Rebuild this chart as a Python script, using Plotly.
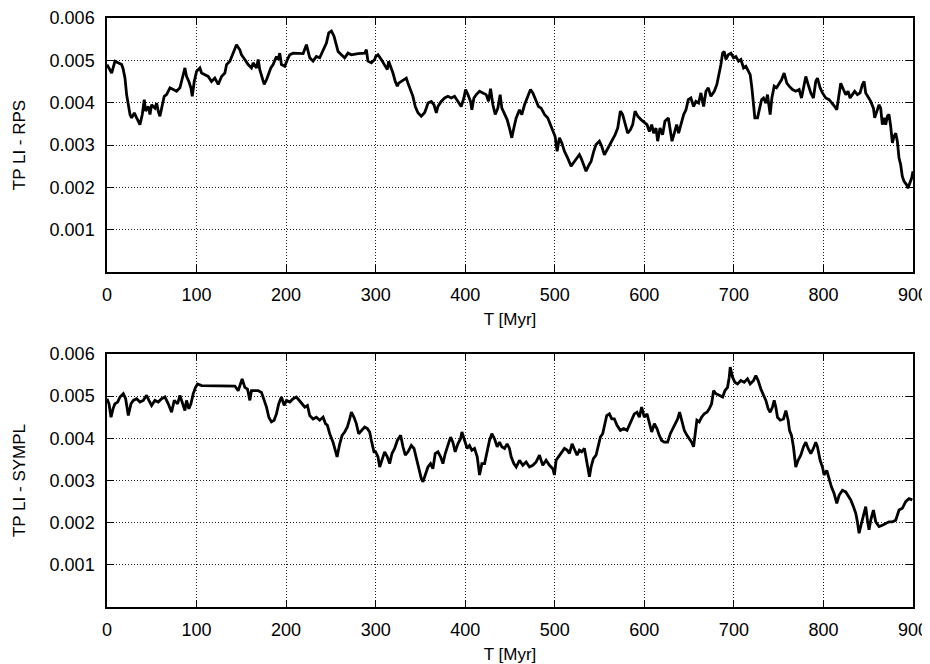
import plotly.graph_objects as go

# ---- Data (T in Myr, TP LI values) ----
t_rps = [0, 5.2, 8.9, 12.6, 16.4, 18.2, 20.1, 21.9, 23.8, 25.7, 27.5, 30.5, 33.1, 34.9, 36.8, 39.4, 41.6, 43.1,
         46.1, 48.0, 49.8, 53.5, 55.4, 57.2, 59.1, 61.0, 63.9, 66.5, 70.3, 74.0, 77.7, 81.4, 83.3, 85.1, 87.0,
         88.8, 91.4, 93.7, 95.2, 97.4, 100.0, 103.7, 105.6, 109.3, 113.0, 116.7, 120.4, 124.2, 127.9, 131.6,
         133.5, 137.2, 140.9, 144.6, 148.3, 150.2, 153.9, 157.6, 161.3, 163.2, 166.9, 168.8, 170.6, 172.5,
         175.5, 178.1, 179.9, 182.9, 185.5, 187.4, 189.2, 191.1, 192.9, 194.8, 198.5, 201.5, 204.1, 207.8,
         213.4, 219.0, 222.7, 224.5, 226.4, 230.1, 233.8, 237.5, 241.3, 245.0, 247.6, 250.6, 253.5, 256.1,
         258.0, 261.7, 265.4, 269.1, 272.9, 280.3, 287.7, 289.6, 291.4, 295.2, 298.9,
         300.0, 302.6, 306.3, 310.0, 313.0, 314.5, 317.5, 319.3, 321.9, 324.2, 325.7, 328.6, 331.6, 334.2,
         336.1, 339.0, 341.6, 344.2, 347.2, 350.9, 354.6, 356.5, 358.4, 362.1, 365.1, 367.7, 369.5, 373.2,
         377.0, 380.7, 384.4, 388.1, 391.8, 395.5, 398.5, 400.4, 403.0, 405.9, 407.4, 409.7, 412.3, 416.0,
         419.7, 423.4, 426.0, 428.3, 430.9, 433.5, 436.4, 439.0, 440.9, 443.9, 446.8, 449.4, 452.0, 454.3,
         456.9, 460.6, 463.2, 466.2, 469.9, 472.9, 475.5, 479.2, 481.8, 484.8, 488.5, 492.2, 495.2, 497.8,
         500.4, 502.6, 505.2, 507.8, 510.8, 514.5, 518.2, 521.9, 524.9, 527.5, 529.4, 532.3, 534.9, 537.5,
         540.5, 543.5, 546.1, 549.8, 552.4, 555.4, 558.4, 561.0, 564.7, 567.3, 570.3, 573.2, 575.8, 578.4,
         581.4, 584.4, 587.0, 589.6, 592.6, 596.3,
         600.0, 603.0, 605.6, 608.2, 610.4, 613.0, 614.9, 617.5, 620.4, 623.0, 626.8, 629.0, 630.9, 633.5,
         636.1, 638.3, 640.9, 643.9, 646.5, 649.1, 652.0, 655.0, 657.6, 660.6, 663.2, 666.2, 668.8, 671.4,
         674.3, 678.1, 681.0, 683.6, 685.5, 687.4, 689.2, 691.1, 693.7, 696.7, 699.6, 702.2, 705.2, 707.8,
         710.8, 713.4, 716.0, 718.2, 720.1, 721.9, 723.4, 726.4, 728.3, 730.9, 733.1, 735.7, 737.5, 739.4,
         740.5, 742.4, 745.0, 747.6, 750.6, 753.2, 756.1, 759.1, 761.7, 765.4, 769.1, 772.9, 775.5, 777.7,
         780.3, 782.9, 785.9, 788.8, 791.4, 793.3, 796.3, 798.9, 802.6, 806.3, 810.0, 812.6, 814.9, 817.5,
         819.3, 822.3, 824.9, 827.5, 829.7, 832.3, 834.9, 837.9, 840.9, 843.5, 845.4, 847.2, 849.8, 852.8,
         855.8, 857.2, 859.1, 862.1, 863.9, 865.8, 867.7, 869.5, 871.4, 873.2, 875.1, 877.0, 878.8, 880.7,
         882.5, 884.4, 886.2, 888.1, 890.0, 892.9, 894.4, 896.7, 898.5, 900.0]

li_rps = [0.00490, 0.00470, 0.00498, 0.00494, 0.00490, 0.00478, 0.00458, 0.00419, 0.00395, 0.00372, 0.00364,
          0.00376, 0.00364, 0.00356, 0.00348, 0.00372, 0.00407, 0.00380, 0.00391, 0.00372, 0.00395, 0.00387,
          0.00399, 0.00380, 0.00368, 0.00387, 0.00415, 0.00419, 0.00435, 0.00431, 0.00427, 0.00435, 0.00454,
          0.00466, 0.00482, 0.00462, 0.00450, 0.00435, 0.00415, 0.00450, 0.00474, 0.00482, 0.00470, 0.00466,
          0.00462, 0.00450, 0.00458, 0.00443, 0.00462, 0.00470, 0.00490, 0.00498, 0.00517, 0.00537, 0.00525,
          0.00513, 0.00502, 0.00490, 0.00482, 0.00494, 0.00482, 0.00502, 0.00478, 0.00462, 0.00443, 0.00454,
          0.00466, 0.00482, 0.00490, 0.00502, 0.00509, 0.00502, 0.00517, 0.00490, 0.00486, 0.00502, 0.00513,
          0.00517, 0.00516, 0.00516, 0.00537, 0.00521, 0.00506, 0.00498, 0.00509, 0.00506, 0.00525, 0.00541,
          0.00565, 0.00569, 0.00557, 0.00537, 0.00521, 0.00513, 0.00506, 0.00517, 0.00513, 0.00516, 0.00517,
          0.00525, 0.00498, 0.00494, 0.00502,
          0.00509, 0.00513, 0.00502, 0.00490, 0.00478, 0.00498, 0.00482, 0.00470, 0.00450, 0.00439, 0.00446,
          0.00450, 0.00454, 0.00458, 0.00446, 0.00431, 0.00415, 0.00391, 0.00376, 0.00368, 0.00376, 0.00387,
          0.00399, 0.00403, 0.00395, 0.00376, 0.00391, 0.00403, 0.00411, 0.00415, 0.00411, 0.00415, 0.00403,
          0.00391, 0.00411, 0.00431, 0.00419, 0.00403, 0.00383, 0.00411, 0.00419, 0.00427, 0.00423, 0.00419,
          0.00403, 0.00433, 0.00395, 0.00372, 0.00387, 0.00419, 0.00387, 0.00372, 0.00360, 0.00340, 0.00317,
          0.00340, 0.00364, 0.00383, 0.00372, 0.00395, 0.00415, 0.00431, 0.00423, 0.00403, 0.00391, 0.00387,
          0.00372, 0.00364, 0.00348, 0.00332, 0.00320, 0.00285, 0.00317, 0.00305, 0.00285, 0.00269, 0.00250,
          0.00261, 0.00269, 0.00277, 0.00269, 0.00250, 0.00238, 0.00250, 0.00261, 0.00285, 0.00301, 0.00309,
          0.00297, 0.00277, 0.00289, 0.00301, 0.00313, 0.00324, 0.00340, 0.00380, 0.00372, 0.00348, 0.00328,
          0.00336, 0.00348, 0.00380, 0.00368, 0.00360,
          0.00352, 0.00348, 0.00332, 0.00348, 0.00328, 0.00340, 0.00309, 0.00340, 0.00324, 0.00356, 0.00364,
          0.00336, 0.00309, 0.00328, 0.00348, 0.00328, 0.00348, 0.00372, 0.00383, 0.00407, 0.00411, 0.00391,
          0.00403, 0.00399, 0.00423, 0.00391, 0.00427, 0.00435, 0.00415, 0.00427, 0.00443, 0.00466, 0.00490,
          0.00517, 0.00521, 0.00502, 0.00513, 0.00517, 0.00506, 0.00509, 0.00498, 0.00502, 0.00482, 0.00486,
          0.00474, 0.00466, 0.00435, 0.00395, 0.00364, 0.00364, 0.00380, 0.00407, 0.00411, 0.00399, 0.00419,
          0.00387, 0.00372, 0.00411, 0.00439, 0.00435, 0.00446, 0.00454, 0.00470, 0.00446, 0.00439, 0.00431,
          0.00427, 0.00431, 0.00411, 0.00439, 0.00462, 0.00443, 0.00423, 0.00411, 0.00450, 0.00458, 0.00435,
          0.00423, 0.00411, 0.00407, 0.00399, 0.00391, 0.00383, 0.00415, 0.00446, 0.00431, 0.00419, 0.00427,
          0.00411, 0.00419, 0.00427, 0.00419, 0.00423, 0.00443, 0.00450, 0.00423, 0.00415, 0.00403, 0.00387,
          0.00364, 0.00376, 0.00395, 0.00387, 0.00348, 0.00364, 0.00348, 0.00368, 0.00372, 0.00344, 0.00305,
          0.00320, 0.00328, 0.00309, 0.00269, 0.00254, 0.00226, 0.00214, 0.00206, 0.00198, 0.00210, 0.00222,
          0.00238]

t_sympl = [0, 2.2, 4.5, 6.7, 8.9, 11.9, 14.5, 18.2, 20.8, 23.8, 26.8, 29.4, 33.1, 36.8, 40.5, 44.2, 46.8,
           49.8, 53.5, 57.2, 61.0, 64.7, 68.4, 72.1, 75.1, 78.8, 81.4, 84.0, 87.0, 88.8, 91.4, 93.7, 96.3,
           98.9, 101.1, 105.6, 113.0, 120.4, 127.9, 135.3, 142.8, 146.5, 148.3, 150.9, 153.9, 156.9, 159.5,
           161.3, 165.1, 168.8, 172.5, 175.5, 178.1, 180.7, 183.6, 186.6, 189.2, 191.8, 194.8, 197.8, 200.4,
           204.1, 207.8, 211.5, 215.2, 217.8, 220.8, 223.8, 226.4, 230.1, 233.8, 237.5, 241.3, 243.9, 246.1,
           248.7, 252.4, 255.0, 256.9, 259.9, 262.5, 265.4, 268.4, 271.0, 272.9, 275.8, 278.4, 281.0, 284.0,
           287.7, 290.7, 293.3, 295.2, 298.1,
           300.0, 302.6, 304.5, 307.1, 310.0, 313.0, 315.6, 318.2, 321.2, 324.2, 327.9, 330.5, 333.1, 336.1,
           339.8, 342.8, 345.4, 348.0, 350.9, 352.8, 355.4, 358.4, 361.3, 363.9, 366.5, 369.5, 372.5, 375.1,
           377.7, 380.7, 383.6, 386.2, 388.8, 391.8, 394.8, 396.3, 399.3, 402.2, 404.8, 407.4, 410.4, 413.4,
           416.0, 418.6, 421.6, 424.5, 427.1, 429.7, 432.7, 435.7, 438.3, 440.9, 443.9, 446.8, 449.4, 451.3,
           454.3, 456.9, 460.6, 464.3, 468.0, 471.7, 475.5, 479.2, 482.9, 486.6, 490.3, 494.1, 497.8, 499.6,
           501.5, 504.1, 507.1, 510.8, 513.8, 516.4, 519.3, 521.9, 524.9, 527.5, 530.1, 533.1, 535.7, 538.7,
           540.5, 543.1, 546.1, 548.7, 550.9, 553.5, 555.4, 558.0, 561.0, 563.6, 566.5, 569.5, 573.2, 576.9,
           580.7, 583.3, 585.9, 588.8, 591.8, 594.4, 597.0,
           600.0, 603.0, 605.6, 608.2, 611.2, 614.1, 616.7, 619.3, 622.3, 626.0, 629.0, 631.6, 634.2, 637.2,
           639.4, 641.6, 644.6, 647.6, 650.2, 652.8, 655.0, 656.5, 658.7, 661.3, 663.9, 666.9, 669.9, 672.5,
           675.1, 677.3, 679.9, 683.6, 687.4, 690.0, 692.9, 694.8, 695.9, 698.5, 701.1, 704.1, 707.8, 711.5,
           715.2, 718.2, 721.9, 724.5, 727.1, 730.1, 733.1, 735.7, 738.3, 740.5, 743.1, 745.0, 746.8, 748.7,
           751.7, 755.4, 758.0, 760.6, 762.1, 764.3, 766.5, 769.1, 771.7, 774.7, 777.7, 780.3, 782.9, 785.9,
           788.8, 791.4, 793.3, 796.3, 798.9, 800.7, 803.7, 806.3, 808.9, 811.9, 814.9, 817.5, 821.2, 824.9,
           827.5, 830.5, 833.5, 836.1, 837.9, 839.8, 842.4, 845.4, 847.2, 849.1, 850.9, 852.8, 855.8, 858.4,
           862.1, 865.8, 869.5, 873.2, 877.0, 880.7, 884.4, 888.1, 891.8, 895.5, 899.3]

li_sympl = [0.00494, 0.00482, 0.00450, 0.00470, 0.00482, 0.00486, 0.00498, 0.00506, 0.00494, 0.00454, 0.00482,
            0.00490, 0.00494, 0.00486, 0.00490, 0.00502, 0.00490, 0.00478, 0.00490, 0.00486, 0.00494, 0.00498,
            0.00482, 0.00462, 0.00490, 0.00482, 0.00502, 0.00486, 0.00466, 0.00490, 0.00470, 0.00482, 0.00506,
            0.00521, 0.00529, 0.00525, 0.00525, 0.00525, 0.00524, 0.00524, 0.00524, 0.00513, 0.00525, 0.00541,
            0.00521, 0.00517, 0.00490, 0.00513, 0.00513, 0.00513, 0.00509, 0.00490, 0.00474, 0.00450, 0.00439,
            0.00443, 0.00458, 0.00482, 0.00498, 0.00478, 0.00490, 0.00486, 0.00494, 0.00498, 0.00490, 0.00482,
            0.00474, 0.00478, 0.00454, 0.00446, 0.00450, 0.00443, 0.00450, 0.00435, 0.00431, 0.00411, 0.00391,
            0.00372, 0.00356, 0.00387, 0.00407, 0.00415, 0.00427, 0.00446, 0.00462, 0.00450, 0.00435, 0.00411,
            0.00419, 0.00427, 0.00423, 0.00415, 0.00395, 0.00368,
            0.00368, 0.00356, 0.00332, 0.00352, 0.00368, 0.00356, 0.00340, 0.00364, 0.00376, 0.00395, 0.00407,
            0.00380, 0.00360, 0.00368, 0.00383, 0.00376, 0.00352, 0.00328, 0.00305, 0.00297, 0.00313, 0.00332,
            0.00340, 0.00328, 0.00364, 0.00368, 0.00356, 0.00340, 0.00364, 0.00387, 0.00403, 0.00391, 0.00368,
            0.00387, 0.00399, 0.00415, 0.00395, 0.00376, 0.00383, 0.00372, 0.00376, 0.00356, 0.00313, 0.00340,
            0.00340, 0.00372, 0.00395, 0.00411, 0.00399, 0.00380, 0.00391, 0.00380, 0.00376, 0.00387, 0.00376,
            0.00356, 0.00340, 0.00332, 0.00348, 0.00336, 0.00344, 0.00332, 0.00336, 0.00344, 0.00360, 0.00336,
            0.00348, 0.00336, 0.00328, 0.00313, 0.00348, 0.00356, 0.00364, 0.00376, 0.00372, 0.00364, 0.00387,
            0.00376, 0.00360, 0.00372, 0.00368, 0.00376, 0.00348, 0.00309, 0.00332, 0.00352, 0.00360, 0.00380,
            0.00403, 0.00411, 0.00431, 0.00454, 0.00458, 0.00446, 0.00446, 0.00431, 0.00419, 0.00423, 0.00419,
            0.00431, 0.00446, 0.00458, 0.00462, 0.00450, 0.00474,
            0.00450, 0.00458, 0.00439, 0.00415, 0.00435, 0.00423, 0.00407, 0.00395, 0.00391, 0.00391, 0.00411,
            0.00423, 0.00431, 0.00446, 0.00462, 0.00443, 0.00419, 0.00407, 0.00399, 0.00391, 0.00380, 0.00411,
            0.00443, 0.00439, 0.00450, 0.00458, 0.00462, 0.00470, 0.00482, 0.00513, 0.00506, 0.00502, 0.00498,
            0.00513, 0.00521, 0.00545, 0.00569, 0.00545, 0.00533, 0.00529, 0.00537, 0.00533, 0.00541, 0.00529,
            0.00537, 0.00549, 0.00537, 0.00517, 0.00502, 0.00490, 0.00470, 0.00462, 0.00474, 0.00490, 0.00474,
            0.00450, 0.00443, 0.00446, 0.00466, 0.00443, 0.00419, 0.00407, 0.00380, 0.00332, 0.00348, 0.00360,
            0.00380, 0.00391, 0.00376, 0.00364, 0.00376, 0.00391, 0.00380, 0.00348, 0.00332, 0.00313, 0.00324,
            0.00301, 0.00285, 0.00269, 0.00246, 0.00265, 0.00277, 0.00273, 0.00265, 0.00254, 0.00238, 0.00222,
            0.00202, 0.00175, 0.00198, 0.00222, 0.00238, 0.00206, 0.00183, 0.00206, 0.00230, 0.00202, 0.00191,
            0.00194, 0.00198, 0.00202, 0.00202, 0.00206, 0.00230, 0.00234, 0.00250, 0.00257, 0.00254]

x_ticks = [0, 100, 200, 300, 400, 500, 600, 700, 800, 900]
y_ticks = [0.001, 0.002, 0.003, 0.004, 0.005, 0.006]
y_tick_text = ["0.001", "0.002", "0.003", "0.004", "0.005", "0.006"]
x_title = "T [Myr]"
y_titles = ["TP LI - RPS", "TP LI - SYMPL"]

FONT = "Liberation Sans, Arial, Helvetica, sans-serif"
W, H = 930, 664
# the page body adds an 8px offset, so margins are shifted to land the plot at the reference place
ML, MR, MT, MB = 99, 25, 10, 65
plot_h = H - MT - MB
top_dom = [(599 - 264) / plot_h, 1.0]
bot_dom = [0.0, (599 - 346) / plot_h]
GRID_DASH = "1px,2px"
TICK_FS = 18

fig = go.Figure()
fig.add_trace(go.Scatter(x=t_rps, y=li_rps, mode="lines", xaxis="x", yaxis="y",
                         line=dict(color="black", width=2.8), showlegend=False))
fig.add_trace(go.Scatter(x=t_sympl, y=li_sympl, mode="lines", xaxis="x2", yaxis="y2",
                         line=dict(color="black", width=2.8), showlegend=False))

def xax(anchor):
    return dict(range=[0, 900], tickvals=x_ticks, ticks="inside", ticklen=7, tickwidth=1,
                tickcolor="black", showline=True, linecolor="black", linewidth=1.5, mirror="ticks",
                showgrid=True, gridcolor="#222", griddash=GRID_DASH, gridwidth=1, zeroline=False,
                anchor=anchor, domain=[0, 1], ticklabelstandoff=6, automargin=False,
                title=dict(text=x_title, standoff=9, font=dict(size=17, color="black")),
                tickfont=dict(size=TICK_FS, color="black"))

def yax(anchor, dom, title):
    return dict(range=[0, 0.006], tickvals=y_ticks, ticktext=y_tick_text, ticks="inside", ticklen=7,
                tickwidth=1, tickcolor="black", showline=True, linecolor="black", linewidth=1.5,
                mirror="ticks", showgrid=True, gridcolor="#222", griddash=GRID_DASH, gridwidth=1,
                zeroline=False, anchor=anchor, domain=dom, ticklabelstandoff=7, automargin=False,
                title=dict(text=title, standoff=20, font=dict(size=17, color="black")),
                tickfont=dict(size=TICK_FS, color="black"))

fig.update_layout(
    width=W, height=H,
    margin=dict(l=ML, r=MR, t=MT, b=MB),
    paper_bgcolor="white", plot_bgcolor="white",
    font=dict(family=FONT, size=17, color="black"),
    xaxis=xax("y"), yaxis=yax("x", top_dom, y_titles[0]),
    xaxis2=xax("y2"), yaxis2=yax("x2", bot_dom, y_titles[1]),
    showlegend=False,
)

fig.write_html("out.html")
